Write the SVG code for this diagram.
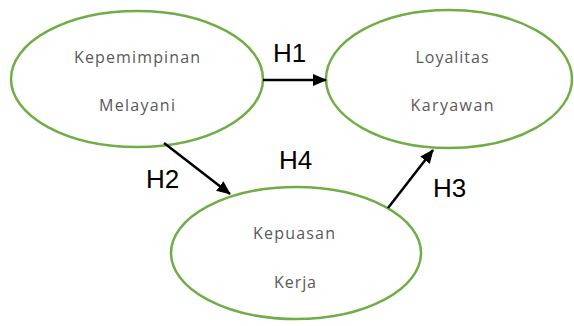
<svg xmlns="http://www.w3.org/2000/svg" width="574" height="326" viewBox="0 0 574 326">
  <defs>
    <marker id="arrow" markerWidth="14" markerHeight="12" refX="13" refY="6" orient="auto" markerUnits="userSpaceOnUse" viewBox="0 0 14 12">
      <path d="M0,0 L14,6 L0,12 z" fill="#000"/>
    </marker>
    <style>
      .node { fill: #fff; stroke: #70ad47; stroke-width: 2.5; }
      .label { font-family: "Open Sans", "Liberation Sans", sans-serif; font-size: 16px; fill: #595959; text-anchor: middle; }
      .hyp { font-family: "Liberation Sans", Arial, sans-serif; font-size: 26px; fill: #000; }
      .edge { stroke: #000; stroke-width: 2.5; fill: none; }
    </style>
  </defs>
  <rect width="574" height="326" fill="#fff"/>

  <g id="node-kepemimpinan">
    <ellipse class="node" cx="137" cy="79" rx="126" ry="68"/>
    <text class="label" x="137" y="63" textLength="126" lengthAdjust="spacing">Kepemimpinan</text>
    <text class="label" x="137" y="111" textLength="76" lengthAdjust="spacing">Melayani</text>
  </g>

  <g id="node-loyalitas">
    <ellipse class="node" cx="449" cy="79" rx="123" ry="69"/>
    <text class="label" x="452" y="63" textLength="73" lengthAdjust="spacing">Loyalitas</text>
    <text class="label" x="452" y="111" textLength="83" lengthAdjust="spacing">Karyawan</text>
  </g>

  <g id="node-kepuasan">
    <ellipse class="node" cx="296" cy="253" rx="125" ry="66"/>
    <text class="label" x="294" y="239" textLength="82" lengthAdjust="spacing">Kepuasan</text>
    <text class="label" x="295" y="288" textLength="42" lengthAdjust="spacing">Kerja</text>
  </g>

  <g id="connectors">
    <line class="edge" x1="263" y1="80" x2="326" y2="80" marker-end="url(#arrow)"/>
    <line class="edge" x1="164" y1="143" x2="230" y2="194" marker-end="url(#arrow)"/>
    <line class="edge" x1="388" y1="208" x2="433" y2="150" marker-end="url(#arrow)"/>
  </g>

  <g id="hypotheses">
    <text class="hyp" x="273" y="62">H1</text>
    <text class="hyp" x="146" y="188">H2</text>
    <text class="hyp" x="433" y="197">H3</text>
    <text class="hyp" x="279" y="169">H4</text>
  </g>
</svg>
